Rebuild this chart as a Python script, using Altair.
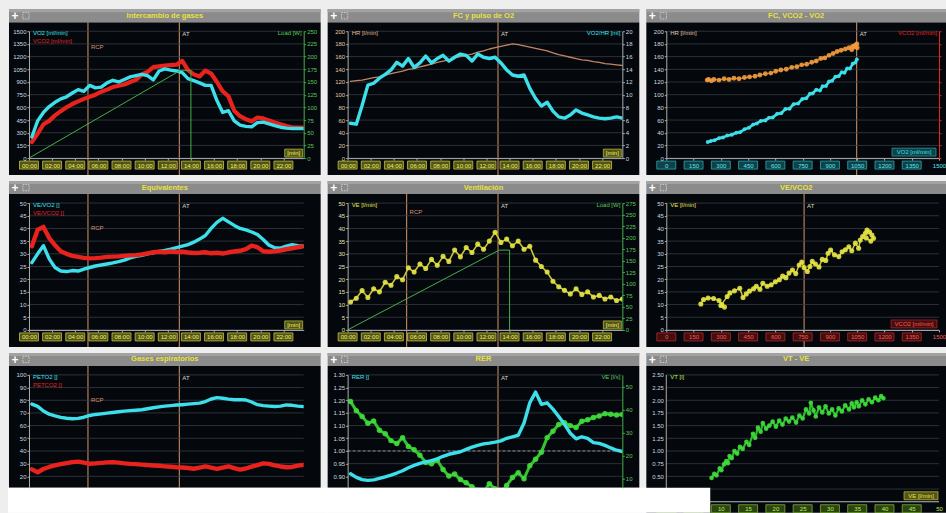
import altair as alt
import pandas as pd

# ---------------------------------------------------------------- style
FONT = "Liberation Sans"
PAGE = "#eeeeee"
PANEL = "#04080d"
BAR = "#8b8b8b"
TITLE_C = "#e8e23c"
GRID = "#363c43"
AXIS_C = "#a9aeb2"
LBL_C = "#c9dde2"
EVENT_C = "#c68a62"
CYAN = "#3de0ea"
RED = "#e8221d"
GREEN = "#3edc3a"
LOAD_C = "#46b046"
YELLOW = "#e6e444"
ORANGE = "#f49b3c"
HR_C = "#c48464"
TIME_LBL = "#f4f460"

W, W3, H, H3 = 275, 273, 127, 113

# ---------------------------------------------------------------- data
# sampling instants of the exercise test [min]
TIME = [0.25, 0.75, 1.25, 1.75, 2.25, 2.75, 3.25, 3.75, 4.25, 4.75, 5.25, 5.75,
        6.25, 6.75, 7.25, 7.75, 8.25, 8.75, 9.25, 9.75, 10.25, 10.75, 11.25, 11.75,
        12.25, 12.75, 13.25, 13.75, 14.25, 14.75, 15.25, 15.75, 16.25, 16.75, 17.25, 17.75,
        18.25, 18.75, 19.25, 19.75, 20.25, 20.75, 21.25, 21.75, 22.25, 22.75, 23.25, 23.75]

VO2 = [250, 440, 540, 610, 660, 700, 725, 770, 810, 790, 860, 830, 840, 890, 920, 900,
       930, 960, 975, 990, 975, 925, 1030, 1055, 1040, 1030, 1010, 940, 915, 890, 860, 860,
       680, 540, 560, 440, 390, 375, 370, 420, 425, 405, 385, 365, 355, 350, 352, 348]
VCO2 = [190, 290, 400, 440, 505, 555, 600, 640, 670, 700, 725, 750, 785, 810, 840, 855,
        870, 900, 925, 990, 1020, 1075, 1085, 1095, 1100, 1105, 1150, 1040, 990, 965, 1035, 1000,
        900, 790, 730, 560, 495, 460, 435, 480, 470, 445, 420, 400, 380, 365, 362, 360]
HR = [121, 122, 123, 125, 127, 128, 131, 133, 135, 137, 140, 141, 144, 146, 148, 151,
      153, 155, 158, 160, 162, 164, 167, 169, 172, 174, 176, 178, 180, 179, 177, 175,
      173, 171, 169, 166, 163, 161, 159, 157, 155, 154, 152, 151, 149, 148, 147, 146]
O2_PULSE = [5.5, 5.35, 8.3, 11.5, 11.8, 12.6, 13.2, 13.9, 15.1, 14.5, 15.7, 14.3, 15.0, 16.1, 15.0, 15.7,
            16.2, 15.3, 15.9, 16.4, 16.2, 15.3, 16.4, 15.9, 15.7, 15.9, 15.0, 13.9, 13.1, 12.9, 13.1, 11.0,
            9.4, 8.2, 8.8, 7.4, 6.5, 6.3, 6.8, 7.6, 7.1, 6.8, 6.5, 6.3, 6.2, 6.3, 6.5, 6.3]
EQ_O2 = [26.5, 30.0, 33.2, 28.0, 24.6, 23.2, 23.0, 23.4, 23.2, 24.0, 24.6, 25.2, 25.6, 26.0, 26.4, 26.9,
         27.5, 28.4, 29.0, 29.4, 30.0, 30.4, 30.9, 31.3, 31.8, 32.4, 33.0, 33.6, 34.6, 35.8, 37.2, 40.0,
         42.4, 44.0, 42.6, 41.2, 40.0, 39.4, 38.6, 37.6, 35.6, 33.4, 32.4, 32.2, 33.0, 33.6, 33.2, 33.0]
EQ_CO2 = [33.0, 39.5, 40.6, 36.2, 33.4, 31.0, 30.0, 29.2, 28.8, 28.4, 28.2, 28.3, 28.5, 28.8, 28.9, 29.0,
          29.2, 29.4, 29.5, 29.8, 30.2, 30.6, 30.8, 30.6, 30.9, 30.7, 30.8, 30.5, 30.3, 30.4, 30.6, 30.2,
          30.4, 30.1, 30.6, 30.9, 31.2, 31.8, 33.2, 32.6, 31.0, 30.8, 31.0, 31.3, 31.8, 32.2, 32.6, 32.9]
VE = [11.0, 12.5, 15.5, 12.8, 16.2, 15.0, 18.8, 17.6, 21.0, 19.8, 24.5, 22.8, 26.0, 24.2, 27.8, 25.5,
      29.0, 27.0, 31.5, 28.8, 32.5, 30.5, 33.8, 31.8, 35.0, 38.5, 34.5, 35.8, 33.2, 35.0, 31.8, 33.0,
      27.5, 25.0, 22.8, 19.2, 17.0, 15.6, 14.2, 16.2, 14.0, 15.0, 13.0, 13.6, 12.2, 13.0, 11.6, 12.2]
PET_O2 = [77.0, 75.2, 71.5, 69.0, 67.6, 66.5, 65.8, 65.4, 65.7, 66.6, 68.0, 68.8, 69.3, 69.8, 70.3, 70.9,
          71.4, 71.8, 72.1, 72.5, 73.3, 74.1, 74.8, 75.4, 75.8, 76.2, 76.5, 76.9, 77.3, 77.7, 79.0, 81.0,
          82.1, 81.6, 80.9, 80.4, 80.5, 80.2, 78.6, 76.5, 75.8, 75.4, 75.1, 75.4, 76.3, 76.0, 75.4, 75.0]
PET_CO2 = [25.5, 23.2, 25.8, 27.4, 28.6, 29.6, 30.4, 31.2, 31.6, 30.8, 29.9, 30.2, 30.6, 31.0, 31.2, 30.8,
           30.2, 29.8, 29.6, 29.2, 28.9, 28.6, 28.3, 27.9, 27.6, 27.2, 27.0, 26.6, 26.0, 26.9, 27.8, 26.8,
           25.9, 26.8, 27.8, 26.4, 25.3, 26.2, 27.6, 28.9, 30.2, 29.8, 28.6, 27.8, 27.2, 27.4, 28.4, 29.1]
RER = [0.910, 0.896, 0.887, 0.884, 0.886, 0.892, 0.898, 0.905, 0.913, 0.922, 0.934, 0.943, 0.951, 0.957, 0.962, 0.969,
       0.979, 0.987, 0.992, 0.997, 1.006, 1.015, 1.022, 1.028, 1.031, 1.035, 1.040, 1.050, 1.056, 1.062, 1.110, 1.190,
       1.232, 1.184, 1.190, 1.165, 1.136, 1.105, 1.070, 1.048, 1.056, 1.050, 1.033, 1.030, 1.022, 1.012, 1.003, 0.998]
VE_FLOW = [43.5, 39.5, 37.0, 34.0, 35.0, 31.0, 29.5, 26.5, 25.2, 27.8, 24.0, 22.5, 20.2, 17.0, 16.5, 18.0,
           14.0, 11.2, 12.0, 9.6, 8.2, 6.5, 5.0, 4.2, 7.8, 5.6, 4.0, 7.0, 10.5, 12.6, 10.0, 15.6,
           18.4, 21.5, 27.8, 30.6, 33.5, 34.2, 33.0, 32.2, 34.9, 35.5, 36.5, 37.2, 38.2, 37.9, 37.6, 37.8]

# work-rate protocol
LOAD_T = [0.0, 13.1, 14.0, 14.0]
LOAD_W = [0, 173, 173, 0]

# threshold markers
EVENT_T = [5.1, 13.0]
EVENT_LAB = ["RCP", "AT"]
AT_VO2 = [1047]
AT_VCO2 = [758]

# HR vs VO2
HRV_VO2 = [225, 232, 248, 262, 290, 318, 345, 372, 400, 430, 458, 488, 515, 545, 575, 602, 630, 660, 690,
           718, 745, 772, 800, 825, 850, 872, 895, 918, 940, 962, 985, 1005, 1025, 1040, 1048, 1035, 1050, 1020]
HRV_HR = [123, 124, 122, 124, 123, 125, 124, 126, 125, 127, 128, 129, 131, 133, 134, 137, 139, 140, 143,
          144, 147, 148, 151, 153, 157, 158, 162, 165, 168, 170, 172, 174, 176, 178, 180, 176, 174, 171]
# VCO2 vs VO2
VS_VO2 = [228, 245, 265, 290, 312, 335, 360, 385, 405, 430, 455, 478, 498, 520, 545, 565, 585, 610, 632, 655, 678,
          700, 725, 748, 770, 790, 805, 825, 845, 860, 878, 895, 912, 930, 948, 965, 980, 995, 1010, 1025, 1040, 1048]
VS_VCO2 = [189, 203, 211, 236, 245, 266, 276, 299, 305, 341, 360, 398, 410, 440, 446, 478, 480, 523, 530, 580, 585,
           638, 645, 700, 708, 760, 765, 808, 800, 850, 852, 905, 915, 962, 968, 1015, 1010, 1060, 1058, 1115, 1130, 1165]
# VE vs VCO2
VV_VCO2 = [190, 205, 230, 260, 290, 305, 320, 300, 335, 350, 375, 404, 422, 440, 458, 480, 495, 515, 531, 555,
           577, 600, 622, 640, 658, 675, 694, 712, 731, 745, 758, 776, 790, 803, 820, 840, 858, 877, 890, 904,
           925, 949, 967, 985, 1004, 1020, 1040, 1058, 1067, 1080, 1095, 1104, 1118, 1131, 1140, 1125, 1100]
VV_VE = [10.2, 12.0, 12.6, 12.4, 11.6, 10.0, 9.0, 9.6, 13.2, 14.6, 15.4, 16.4, 12.8, 14.2, 15.3, 16.2, 17.2, 16.0,
         18.4, 17.2, 17.8, 19.0, 19.8, 21.2, 20.6, 22.4, 23.6, 22.2, 25.6, 26.8, 24.6, 23.0, 25.0, 27.0, 26.0, 24.8,
         27.8, 27.4, 30.2, 31.5, 29.6, 28.9, 30.8, 31.6, 32.8, 31.2, 34.2, 32.2, 35.4, 36.8, 38.1, 39.4, 38.6, 37.4,
         36.1, 35.0, 36.2]
# VT vs VE
TV_VE = [8.3, 8.8, 9.2, 9.8, 10.1, 10.6, 11.0, 11.3, 11.6, 12.0, 12.5, 13.0, 13.5, 14.0, 14.7, 15.2, 15.9, 16.3,
         16.8, 17.3, 17.7, 18.3, 18.9, 19.5, 20.1, 20.7, 21.3, 21.9, 22.5, 23.1, 23.8, 24.4, 25.0, 25.6, 26.2, 26.5,
         27.0, 27.4, 28.0, 28.6, 29.2, 29.8, 30.4, 31.0, 31.6, 32.2, 32.8, 33.5, 34.0, 34.4, 34.9, 35.3, 35.9, 36.5,
         37.1, 37.7, 38.3, 38.9, 39.4, 39.8]
TV_VT = [0.47, 0.55, 0.52, 0.66, 0.62, 0.74, 0.80, 0.76, 0.90, 0.86, 1.00, 0.95, 1.08, 1.04, 1.18, 1.12, 1.34, 1.26,
         1.46, 1.38, 1.55, 1.44, 1.50, 1.58, 1.48, 1.60, 1.52, 1.64, 1.58, 1.66, 1.56, 1.70, 1.64, 1.82, 1.74, 1.95,
         1.80, 1.68, 1.86, 1.76, 1.88, 1.74, 1.82, 1.70, 1.84, 1.78, 1.90, 1.82, 1.94, 1.86, 1.96, 1.88, 2.00, 1.92,
         2.02, 1.96, 2.05, 2.00, 2.08, 2.04]

# axis tick values
TIME_TICKS = [0, 2, 4, 6, 8, 10, 12, 14, 16, 18, 20, 22]
GAS_TICKS = [0, 150, 300, 450, 600, 750, 900, 1050, 1200, 1350, 1500]
LOAD_TICKS = [0, 25, 50, 75, 100, 125, 150, 175, 200, 225, 250]
LOAD_TICKS_5 = [0, 25, 50, 75, 100, 125, 150, 175, 200, 225, 250, 275]
HR_TICKS = [0, 20, 40, 60, 80, 100, 120, 140, 160, 180, 200]
PULSE_TICKS = [0, 2, 4, 6, 8, 10, 12, 14, 16, 18, 20]
EQ_TICKS = [0, 5, 10, 15, 20, 25, 30, 35, 40, 45, 50]
PET_TICKS = [20, 30, 40, 50, 60, 70, 80, 90, 100]
RER_TICKS = [0.90, 0.95, 1.00, 1.05, 1.10, 1.15, 1.20, 1.25, 1.30]
FLOW_TICKS = [10, 20, 30, 40, 50]
VT_TICKS = [0, 0.25, 0.5, 0.75, 1.0, 1.25, 1.5, 1.75, 2.0, 2.25, 2.5]
VE_TICKS = [0, 5, 10, 15, 20, 25, 30, 35, 40, 45, 50]

TIME_EXPR = "(datum.value < 10 ? '0' : '') + datum.value + ':00'"


def indexed(df):
    df["i"] = range(len(df))
    return df


test = indexed(pd.DataFrame({
    "t": TIME, "vo2": VO2, "vco2": VCO2, "hr": HR, "pulse": O2_PULSE,
    "eqo2": EQ_O2, "eqco2": EQ_CO2, "ve": VE, "peto2": PET_O2, "petco2": PET_CO2,
    "rer": RER, "flow": VE_FLOW}))
load = indexed(pd.DataFrame({"t": LOAD_T, "w": LOAD_W}))
hr_vo2 = indexed(pd.DataFrame({"x": HRV_VO2, "y": HRV_HR}))
vco2_vo2 = indexed(pd.DataFrame({"x": VS_VO2, "y": VS_VCO2}))
ve_vco2 = indexed(pd.DataFrame({"x": VV_VCO2, "y": VV_VE}))
vt_ve = indexed(pd.DataFrame({"x": TV_VE, "y": TV_VT}))
ONE = pd.DataFrame({"k": [0]})


# ---------------------------------------------------------------- helpers
def sc(lo, hi):
    return alt.Scale(domain=[lo, hi], nice=False, zero=False)


def rect_px(x1, x2, y1, y2, color):
    return alt.Chart(ONE).mark_rect(color=color).encode(
        x=alt.value(x1), x2=alt.value(x2), y=alt.value(y1), y2=alt.value(y2))


def rule_px(x1, x2, y1, y2, color):
    return alt.Chart(ONE).mark_rule(color=color, strokeWidth=1).encode(
        x=alt.value(x1), x2=alt.value(x2), y=alt.value(y1), y2=alt.value(y2))


def text_px(txt, x, y, color, size=6.0, align="left", weight="normal"):
    return alt.Chart(ONE).mark_text(
        text=txt, color=color, fontSize=size, align=align, baseline="middle",
        font=FONT, fontWeight=weight).encode(x=alt.value(x), y=alt.value(y))


def box_shape(w, h):
    r = h / w
    return f"M-1,{-r:.4f}L1,{-r:.4f}L1,{r:.4f}L-1,{r:.4f}Z"


def tag_px(txt, x, y, w, color, fill, stroke):
    box = alt.Chart(ONE).mark_point(
        shape=box_shape(w, 8), size=w * w, filled=True, fill=fill, stroke=stroke,
        strokeWidth=0.7, opacity=1).encode(x=alt.value(x), y=alt.value(y))
    return [box, text_px(txt, x, y, color, 6, "center")]


def frame(title, w, h, right, bottom):
    icon = alt.Chart(ONE).mark_point(
        shape="square", size=40, filled=False, color="#d4d4d4", strokeWidth=0.9,
        strokeDash=[1.5, 1], opacity=1).encode(x=alt.value(-3), y=alt.value(-15.5))
    return [
        rect_px(-20, w + right, -9, h + bottom, PANEL),
        rect_px(-20, w + right, -22, -9, BAR),
        rect_px(-20, w + right, -22, -19, "#a2a2a2"),
        text_px(title, (w + right - 20) / 2, -15.5, TITLE_C, 7.5, "center", "bold"),
        text_px("+", -14, -15.2, "#ffffff", 12, "center", "bold"),
        icon,
    ]


def y_axis(orient, values, label_color, line_color=AXIS_C, fmt="d", labels=True,
           expr=None, domain=True, ticks=True, pad=1):
    kw = dict(orient=orient, values=values, format=fmt, title=None, grid=False, labels=labels,
              domain=domain, domainColor=line_color, domainWidth=1,
              ticks=ticks, tickColor=line_color, tickSize=2, tickWidth=1,
              labelColor=label_color, labelFont=FONT, labelFontSize=6, labelPadding=pad,
              labelOverlap=False, labelFlush=False, zindex=1)
    if expr:
        kw["labelExpr"] = expr
    return alt.Axis(**kw)


def x_axis(values, label_color, fmt="d", expr=None, domain=True, ticks=True, pad=2):
    kw = dict(orient="bottom", values=values, format=fmt, title=None, grid=False,
              domain=domain, domainColor=AXIS_C, domainWidth=1,
              ticks=ticks, tickColor=AXIS_C, tickSize=2, tickWidth=1,
              labelColor=label_color, labelFont=FONT, labelFontSize=6, labelPadding=pad,
              labelOverlap=False, labelFlush=False, zindex=1)
    if expr:
        kw["labelExpr"] = expr
    return alt.Axis(**kw)


# every layer of a shared scale carries the same axis definition so that
# the merged axis is kept
def grid(ticks, ys, ya, w):
    return alt.Chart(pd.DataFrame({"v": ticks})).mark_rule(color=GRID, strokeWidth=0.8).encode(
        y=alt.Y("v:Q", scale=ys, axis=ya), x=alt.value(0), x2=alt.value(w))


def x_boxes(ticks, xs, xa, h, fill, stroke):
    return alt.Chart(pd.DataFrame({"v": ticks})).mark_point(
        shape=box_shape(19, 8), size=361, filled=True, fill=fill, stroke=stroke,
        strokeWidth=0.8, opacity=1).encode(
        x=alt.X("v:Q", scale=xs, axis=xa), y=alt.value(h + 7))


def path(df, xf, yf, xs, ys, xa, ya, color, width, dash=None, opacity=1.0):
    kw = dict(color=color, strokeWidth=width, clip=True, strokeJoin="round",
              strokeCap="round", opacity=opacity)
    if dash is not None:
        kw["strokeDash"] = dash
    return alt.Chart(df).mark_line(**kw).encode(
        x=alt.X(f"{xf}:Q", scale=xs, axis=xa),
        y=alt.Y(f"{yf}:Q", scale=ys, axis=ya),
        order=alt.Order("i:Q"))


def dots(df, xf, yf, xs, ys, xa, ya, color, size, opacity=0.9):
    return alt.Chart(df).mark_circle(color=color, size=size, opacity=opacity, clip=True).encode(
        x=alt.X(f"{xf}:Q", scale=xs, axis=xa), y=alt.Y(f"{yf}:Q", scale=ys, axis=ya))


def events(times, labels, xs, xa, bottom, rcp_y):
    df = pd.DataFrame({"t": times, "lab": labels})
    rule = alt.Chart(df).mark_rule(color=EVENT_C, strokeWidth=1.1).encode(
        x=alt.X("t:Q", scale=xs, axis=xa), y=alt.value(-9), y2=alt.value(bottom))
    tags = []
    for lab, y, col in (("AT", 3, "#dcd4c6"), ("RCP", rcp_y, "#d98f70")):
        if lab in labels:
            tags.append(alt.Chart(df).transform_filter(alt.datum.lab == lab).mark_text(
                align="left", baseline="middle", dx=3, fontSize=6, font=FONT, color=col).encode(
                x=alt.X("t:Q", scale=xs, axis=xa), y=alt.value(y), text="lab:N"))
    return rule, tags


def panel(layers, w, h):
    return alt.layer(*layers).resolve_scale(y="independent").properties(width=w, height=h)


xs_t = sc(0, 23.75)
TA = x_axis(TIME_TICKS, TIME_LBL, expr=TIME_EXPR)
BOX_Y_FILL, BOX_Y_STROKE = "#535418", "#c4c440"


def min_tag(w, h):
    return tag_px("[min]", w - 10, h - 5, 18, TIME_LBL, BOX_Y_FILL, BOX_Y_STROKE)


# ---------------------------------------------------------------- 1 gas exchange
ys, yr = sc(0, 1500), sc(0, 250)
YL = y_axis("left", GAS_TICKS, LBL_C)
YR = y_axis("right", LOAD_TICKS, "#58c858", LOAD_C)
ev, ev_tags = events(EVENT_T, EVENT_LAB, xs_t, TA, H + 17, 16)
p1 = panel(frame("Intercambio de gases", W, H, 17, 17) + [
    ev,
    alt.layer(
        grid(GAS_TICKS, ys, YL, W),
        x_boxes(TIME_TICKS, xs_t, TA, H, BOX_Y_FILL, BOX_Y_STROKE),
        path(test, "t", "vco2", xs_t, ys, TA, YL, RED, 4.2),
        path(test, "t", "vo2", xs_t, ys, TA, YL, CYAN, 3.4),
    ),
    alt.layer(path(load, "t", "w", xs_t, yr, TA, YR, LOAD_C, 1.0)),
    *ev_tags,
    text_px("VO2 [ml/min]", 4, 2, CYAN),
    text_px("VCO2 [ml/min]", 4, 10, RED),
    text_px("Load [W]", W - 2, 2, "#58c858", align="right"),
    *min_tag(W, H),
], W, H)

# ---------------------------------------------------------------- 2 heart rate / O2 pulse
ys, yr = sc(0, 200), sc(0, 20)
YL = y_axis("left", HR_TICKS, "#e2c8a8")
YR = y_axis("right", PULSE_TICKS, LBL_C)
ev, ev_tags = events([13.0], ["AT"], xs_t, TA, H + 17, 16)
p2 = panel(frame("FC y pulso de O2", W, H, 17, 17) + [
    ev,
    alt.layer(
        grid(HR_TICKS, ys, YL, W),
        x_boxes(TIME_TICKS, xs_t, TA, H, BOX_Y_FILL, BOX_Y_STROKE),
        path(test, "t", "hr", xs_t, ys, TA, YL, HR_C, 1.3),
    ),
    alt.layer(path(test, "t", "pulse", xs_t, yr, TA, YR, CYAN, 3.4)),
    *ev_tags,
    text_px("HR [l/min]", 4, 2, "#e2b890"),
    text_px("VO2/HR [ml]", W - 2, 2, CYAN, align="right"),
    *min_tag(W, H),
], W, H)

# ---------------------------------------------------------------- 3 HR & VCO2 vs VO2
xs, ys, yr = sc(0, 1500), sc(0, 200), sc(0, 1500)
XA = x_axis(GAS_TICKS, "#5ee8f0")
YL = y_axis("left", HR_TICKS, LBL_C)
YR = y_axis("right", GAS_TICKS, RED, RED, labels=False)
ev, ev_tags = events(AT_VO2, ["AT"], xs, XA, H + 17, 16)
p3 = panel(frame("FC, VCO2 - VO2", W3, H, 7, 17) + [
    ev,
    alt.layer(
        grid(HR_TICKS, ys, YL, W3),
        x_boxes(GAS_TICKS[:-1], xs, XA, H, "#0e4248", "#2aa8b2"),
        path(hr_vo2, "x", "y", xs, ys, XA, YL, ORANGE, 1.2, opacity=0.8),
        dots(hr_vo2, "x", "y", xs, ys, XA, YL, ORANGE, 24),
    ),
    alt.layer(
        path(vco2_vo2, "x", "y", xs, yr, XA, YR, CYAN, 2.6),
        dots(vco2_vo2, "x", "y", xs, yr, XA, YR, CYAN, 16),
    ),
    *ev_tags,
    text_px("HR [l/min]", 4, 2, "#e2c8a8"),
    text_px("VCO2 [ml/min]", W3 - 2, 2, RED, align="right"),
    *tag_px("VO2 [ml/min]", W3 - 25, H - 6, 44, CYAN, "#0e4248", "#2aa8b2"),
], W3, H)

# ---------------------------------------------------------------- 4 ventilatory equivalents
ys = sc(0, 50)
YL = y_axis("left", EQ_TICKS, LBL_C)
ev, ev_tags = events(EVENT_T, EVENT_LAB, xs_t, TA, H + 17, 25)
p4 = panel(frame("Equivalentes", W, H, 17, 17) + [
    ev,
    alt.layer(
        grid(EQ_TICKS, ys, YL, W),
        x_boxes(TIME_TICKS, xs_t, TA, H, BOX_Y_FILL, BOX_Y_STROKE),
        path(test, "t", "eqo2", xs_t, ys, TA, YL, CYAN, 3.4),
        path(test, "t", "eqco2", xs_t, ys, TA, YL, RED, 4.4),
    ),
    *ev_tags,
    text_px("VE/VO2 []", 4, 2, CYAN),
    text_px("VE/VCO2 []", 4, 10, RED),
    *min_tag(W, H),
], W, H)

# ---------------------------------------------------------------- 5 ventilation
ys, yr = sc(0, 50), sc(0, 275)
YL = y_axis("left", EQ_TICKS, "#e6e6b0")
YR = y_axis("right", LOAD_TICKS_5, "#58c858", LOAD_C)
ev, ev_tags = events(EVENT_T, EVENT_LAB, xs_t, TA, H + 17, 9)
p5 = panel(frame("Ventilación", W, H, 17, 17) + [
    ev,
    alt.layer(
        grid(EQ_TICKS, ys, YL, W),
        x_boxes(TIME_TICKS, xs_t, TA, H, BOX_Y_FILL, BOX_Y_STROKE),
        path(test, "t", "ve", xs_t, ys, TA, YL, "#c8c43a", 1.6),
        dots(test, "t", "ve", xs_t, ys, TA, YL, YELLOW, 26),
    ),
    alt.layer(path(load, "t", "w", xs_t, yr, TA, YR, LOAD_C, 1.0)),
    *ev_tags,
    text_px("VE [l/min]", 4, 2, YELLOW),
    text_px("Load [W]", W - 2, 2, "#58c858", align="right"),
    *min_tag(W, H),
], W, H)

# ---------------------------------------------------------------- 6 VE vs VCO2
xs, ys = sc(0, 1500), sc(0, 50)
XA = x_axis(GAS_TICKS, "#ff5a5a")
YL = y_axis("left", EQ_TICKS, LBL_C)
ev, ev_tags = events(AT_VCO2, ["AT"], xs, XA, H + 17, 16)
p6 = panel(frame("VE/VCO2", W3, H, 7, 17) + [
    ev,
    alt.layer(
        grid(EQ_TICKS, ys, YL, W3),
        x_boxes(GAS_TICKS[:-1], xs, XA, H, "#440e0e", "#b02828"),
        path(ve_vco2, "x", "y", xs, ys, XA, YL, "#c8c43a", 1.5),
        dots(ve_vco2, "x", "y", xs, ys, XA, YL, YELLOW, 26),
    ),
    *ev_tags,
    text_px("VE [l/min]", 4, 2, YELLOW),
    *tag_px("VCO2 [ml/min]", W3 - 25, H - 6, 46, "#ff5a5a", "#440e0e", "#b02828"),
], W3, H)

# ---------------------------------------------------------------- 7 end-tidal gases
ys = sc(11, 100)
YL = y_axis("left", PET_TICKS, LBL_C)
ev, ev_tags = events(EVENT_T, EVENT_LAB, xs_t, None, H3, 25)
p7 = panel(frame("Gases espiratorios", W, H3, 17, 0) + [
    ev,
    alt.layer(
        grid(PET_TICKS, ys, YL, W),
        path(test, "t", "peto2", xs_t, ys, None, YL, CYAN, 3.4),
        path(test, "t", "petco2", xs_t, ys, None, YL, RED, 4.4),
    ),
    *ev_tags,
    text_px("PETO2 []", 4, 2, CYAN),
    text_px("PETCO2 []", 4, 10, RED),
    rect_px(-21, W + 24, H3, H3 + 25, "#ffffff"),
], W, H3)

# ---------------------------------------------------------------- 8 RER
ys, yr = sc(0.855, 1.30), sc(6.06, 55)
YL = y_axis("left", RER_TICKS, LBL_C, fmt=".2f")
YR = y_axis("right", FLOW_TICKS, "#58c858", LOAD_C)
ev, ev_tags = events([13.0], ["AT"], xs_t, None, H3, 16)
p8 = panel(frame("RER", W, H3, 17, 0) + [
    ev,
    alt.layer(
        grid(RER_TICKS, ys, YL, W),
        alt.Chart(pd.DataFrame({"v": [1.0]})).mark_rule(
            color="#9a9a9a", strokeWidth=0.9, strokeDash=[3, 2]).encode(
            y=alt.Y("v:Q", scale=ys, axis=YL), x=alt.value(0), x2=alt.value(W)),
    ),
    alt.layer(
        path(test, "t", "flow", xs_t, yr, None, YR, "#36c034", 3.0),
        dots(test, "t", "flow", xs_t, yr, None, YR, GREEN, 30),
    ),
    alt.layer(path(test, "t", "rer", xs_t, ys, None, None, CYAN, 3.4)),
    *ev_tags,
    text_px("RER []", 4, 2, CYAN),
    text_px("VE [l/s]", W - 2, 2, "#58c858", align="right"),
    rect_px(-21, W + 27, H3, H3 + 25, "#ffffff"),
], W, H3)

# ---------------------------------------------------------------- 9 VT vs VE
xs, ys = sc(0, 50), sc(0, 2.5)
XA = x_axis(VE_TICKS, "#b8f050", domain=False, ticks=False, pad=4,
            expr="datum.value < 8 ? '' : datum.label")
YL = y_axis("left", VT_TICKS, LBL_C, fmt=".2f", domain=False, ticks=False, pad=3,
            expr="datum.value < 0.3 ? '' : datum.label")
p9 = panel(frame("VT - VE", W3, H, 7, 11) + [
    alt.layer(
        grid(VT_TICKS, ys, YL, W3),
        x_boxes(VE_TICKS[:-1], xs, XA, H, "#2c4412", "#78b034"),
        path(vt_ve, "x", "y", xs, ys, XA, YL, "#30b82e", 2.2),
        dots(vt_ve, "x", "y", xs, ys, XA, YL, GREEN, 22),
    ),
    rule_px(0, 0, 0, H, AXIS_C),
    rule_px(0, W3, H, H, AXIS_C),
    text_px("VT [l]", 4, 2, "#b8f050"),
    *tag_px("VE [l/min]", W3 - 18, H - 6, 34, "#e6e444", "#535418", "#c4c440"),
    rect_px(-21, 44, H3, H3 + 25, "#ffffff"),
], W3, H)

# ---------------------------------------------------------------- dashboard
chart = alt.concat(
    p1, p2, p3, p4, p5, p6, p7, p8, p9,
    columns=3, spacing={"row": 45, "column": 44}, bounds="flush",
).properties(
    background=PAGE,
    padding={"left": 8, "top": 9, "right": 0, "bottom": 0},
).configure_view(stroke=None)

chart.save("out.html", embed_options={"renderer": "svg", "actions": False})
